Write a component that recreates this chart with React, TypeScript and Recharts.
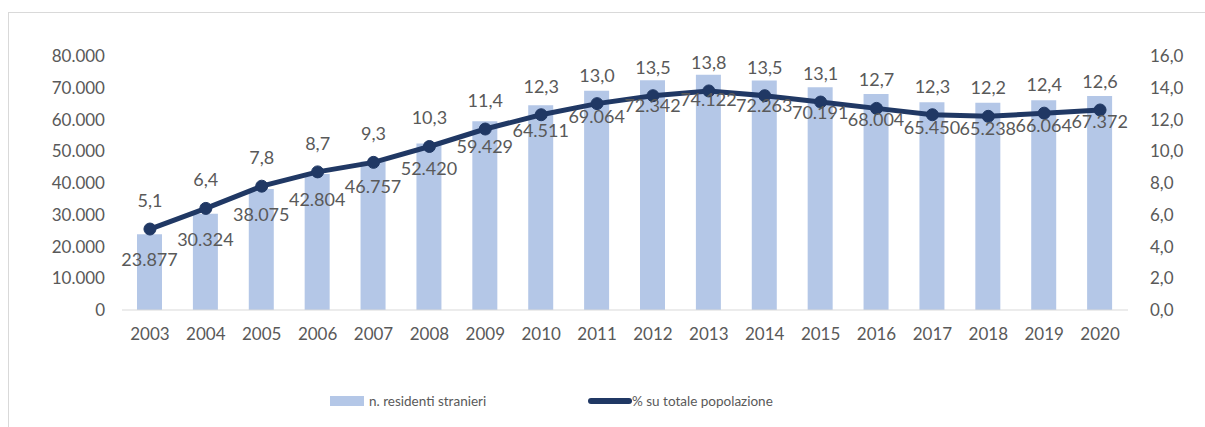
import React from "react";
import { ComposedChart, Bar, Line, XAxis, YAxis, LabelList, Legend } from "recharts";

const years = ["2003","2004","2005","2006","2007","2008","2009","2010","2011","2012","2013","2014","2015","2016","2017","2018","2019","2020"];
const residents = [23877,30324,38075,42804,46757,52420,59429,64511,69064,72342,74122,72263,70191,68004,65450,65238,66064,67372];
const pctTotal = [5.1,6.4,7.8,8.7,9.3,10.3,11.4,12.3,13.0,13.5,13.8,13.5,13.1,12.7,12.3,12.2,12.4,12.6];
const leftTicks = [0,10000,20000,30000,40000,50000,60000,70000,80000];
const rightTicks = [0,2,4,6,8,10,12,14,16];
const seriesNames = ["n. residenti stranieri", "% su totale popolazione"];

const data = years.map((y, i) => ({ year: y, residents: residents[i], pct: pctTotal[i] }));

const BAR = "#B4C7E7";
const LINE = "#203864";
const TXT = "#595959";
const FONT = "Lato, 'Open Sans', sans-serif";

const fmtThousands = (v: number) => v.toLocaleString("de-DE");
const fmtPct = (v: number) => v.toFixed(1).replace(".", ",");

const LegendContent = () => (
  <div style={{ position: "relative", width: 1205, height: 24, fontFamily: FONT, fontSize: 13.5, color: TXT }}>
    <div style={{ position: "absolute", left: 330, top: 6, width: 34, height: 10, background: BAR }} />
    <div style={{ position: "absolute", left: 369, top: 2, lineHeight: "18px" }}>{seriesNames[0]}</div>
    <div style={{ position: "absolute", left: 588, top: 8, width: 44, height: 6, background: LINE, borderRadius: 3 }} />
    <div style={{ position: "absolute", left: 632, top: 2, lineHeight: "18px" }}>{seriesNames[1]}</div>
  </div>
);

export default function App() {
  return (
    <div style={{ position: "absolute", left: 0, top: 0, width: 1205, height: 427, overflow: "hidden", background: "#fff" }}>
      <div style={{ position: "absolute", left: 8, top: 12, width: 1205, height: 440, border: "1px solid #D9D9D9", boxSizing: "border-box" }} />
      <div style={{ position: "absolute", left: 0, top: 0 }}>
        <ComposedChart width={1205} height={427} data={data} margin={{ top: 56, right: 0, bottom: 87, left: 0 }}>
          <XAxis dataKey="year" tickLine={false} tickSize={0} tickMargin={18} axisLine={{ stroke: "#D9D9D9" }} height={30}
            tick={{ fill: TXT, fontSize: 17, fontFamily: FONT }} interval={0} />
          <YAxis yAxisId="left" orientation="left" width={122} domain={[0, 80000]} ticks={leftTicks} axisLine={false} tickLine={false}
            tickSize={0} tickMargin={17} tickFormatter={fmtThousands} tick={{ fill: TXT, fontSize: 17, fontFamily: FONT }} />
          <YAxis yAxisId="right" orientation="right" width={77} domain={[0, 16]} ticks={rightTicks} axisLine={false} tickLine={false}
            tickSize={0} tickMargin={22} tickFormatter={fmtPct} tick={{ fill: TXT, fontSize: 17, fontFamily: FONT }} />
          <Bar yAxisId="left" dataKey="residents" name={seriesNames[0]} fill={BAR} barSize={25} isAnimationActive={false}>
            <LabelList dataKey="residents" position="insideTop" offset={19} formatter={(v: any) => fmtThousands(Number(v))}
              style={{ fill: TXT, fontSize: 18, fontFamily: FONT }} />
          </Bar>
          <Line yAxisId="right" dataKey="pct" name={seriesNames[1]} stroke={LINE} strokeWidth={5} isAnimationActive={false}
            dot={{ r: 6, fill: LINE, stroke: LINE, strokeWidth: 1 }} activeDot={false}>
            <LabelList dataKey="pct" position="top" offset={22} formatter={(v: any) => fmtPct(Number(v))}
              style={{ fill: TXT, fontSize: 18, fontFamily: FONT }} />
          </Line>
          <Legend layout="horizontal" verticalAlign="middle" align="center" content={<LegendContent />}
            wrapperStyle={{ position: "absolute", left: 0, top: 390, width: 1205, height: 24 }} />
        </ComposedChart>
      </div>
    </div>
  );
}
